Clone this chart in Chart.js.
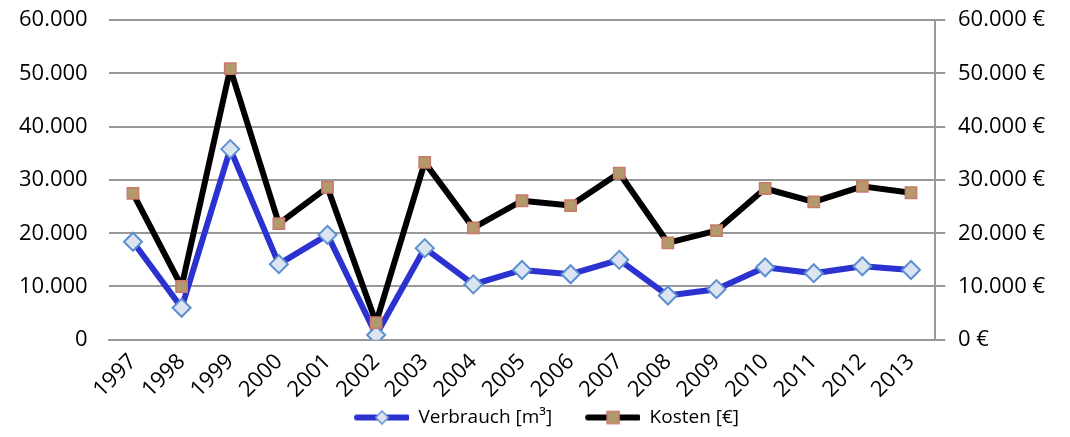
<!DOCTYPE html>
<html>
<head>
<meta charset="utf-8">
<script src="https://cdn.jsdelivr.net/npm/chart.js@4"></script>
<style>
  html, body { margin: 0; padding: 0; background: #fff; }
  #wrap { width: 1070px; height: 437px; }
</style>
</head>
<body>
<div id="wrap"><canvas id="chart" width="1070" height="437"></canvas></div>
<script>
const years = ['1997','1998','1999','2000','2001','2002','2003','2004','2005','2006','2007','2008','2009','2010','2011','2012','2013'];
const verbrauch = [18400, 6000, 35800, 14200, 19700, 900, 17200, 10400, 13100, 12300, 15000, 8300, 9500, 13600, 12500, 13800, 13100];
const kosten = [27500, 10000, 50900, 21800, 28600, 3200, 33300, 21000, 26100, 25200, 31300, 18200, 20500, 28400, 25900, 28800, 27600];
const yTicks = [0, 10000, 20000, 30000, 40000, 50000, 60000];

function fmt(v) {
    return String(v).replace(/\B(?=(\d{3})+(?!\d))/g, '.');
}

// legend symbol: line with marker, with some empty room on the left as item spacing
function legendIcon(lineColor, marker) {
    const c = document.createElement('canvas');
    c.width = 84; c.height = 16;
    const g = c.getContext('2d');
    g.strokeStyle = lineColor;
    g.lineWidth = 6;
    g.lineCap = 'round';
    g.beginPath(); g.moveTo(32, 8); g.lineTo(82, 8); g.stroke();
    if (marker === 'diamond') {
        g.fillStyle = '#dce4f2'; g.strokeStyle = '#5b8fd0'; g.lineWidth = 1.5;
        g.beginPath(); g.moveTo(57, 1.5); g.lineTo(63.5, 8); g.lineTo(57, 14.5); g.lineTo(50.5, 8); g.closePath();
        g.fill(); g.stroke();
    } else {
        g.fillStyle = '#b39a6c'; g.strokeStyle = '#c9786a'; g.lineWidth = 1.5;
        g.fillRect(51, 2, 12, 12); g.strokeRect(51, 2, 12, 12);
    }
    return c;
}

const font = "'Open Sans', sans-serif";

new Chart(document.getElementById('chart').getContext('2d'), {
    type: 'line',
    data: {
        labels: years,
        datasets: [{
            label: 'Verbrauch [m³]',
            data: verbrauch,
            yAxisID: 'y',
            borderColor: '#2b32cf',
            borderWidth: 6,
            borderJoinStyle: 'round',
            pointStyle: 'rectRot',
            pointRadius: 9,
            pointBackgroundColor: '#dce4f2',
            pointBorderColor: '#5b8fd0',
            pointBorderWidth: 2,
            tension: 0,
            order: 2
        }, {
            label: 'Kosten [€]',
            data: kosten,
            yAxisID: 'y1',
            borderColor: '#000000',
            borderWidth: 6,
            borderJoinStyle: 'round',
            pointStyle: 'rect',
            pointRadius: 8,
            pointBackgroundColor: '#b39a6c',
            pointBorderColor: '#c9786a',
            pointBorderWidth: 1.5,
            tension: 0,
            order: 1
        }]
    },
    options: {
        responsive: false,
        animation: false,
        layout: { padding: { top: 0, right: 18, left: 12, bottom: 0 } },
        plugins: {
            tooltip: { enabled: false },
            legend: {
                position: 'bottom',
                labels: {
                    usePointStyle: true,
                    pointStyleWidth: 84,
                    font: { family: font, size: 19 },
                    color: '#000',
                    padding: 4,
                    generateLabels: function(chart) {
                        return chart.data.datasets.map(function(ds, i) {
                            return {
                                text: ds.label,
                                pointStyle: legendIcon(i === 0 ? '#2b32cf' : '#000', i === 0 ? 'diamond' : 'square'),
                                datasetIndex: i,
                                hidden: false,
                                lineWidth: 0,
                                fontColor: '#000'
                            };
                        });
                    }
                }
            }
        },
        scales: {
            x: {
                offset: true,
                grid: { display: false },
                border: { display: true, color: '#999', width: 2 },
                ticks: {
                    maxRotation: 45, minRotation: 45,
                    font: { family: font, size: 22 },
                    color: '#000',
                    padding: 1
                }
            },
            y: {
                position: 'left',
                min: 0, max: 60000,
                afterBuildTicks: function(axis) { axis.ticks = yTicks.map(v => ({ value: v })); },
                grid: { color: '#999', lineWidth: 2, drawTicks: true, tickLength: 14, tickColor: 'rgba(0,0,0,0)' },
                border: { display: false },
                ticks: {
                    font: { family: font, size: 22 },
                    color: '#000',
                    padding: 7,
                    callback: v => fmt(v)
                }
            },
            y1: {
                position: 'right',
                min: 0, max: 60000,
                afterBuildTicks: function(axis) { axis.ticks = yTicks.map(v => ({ value: v })); },
                grid: { drawOnChartArea: false, color: '#999', lineWidth: 2, tickLength: 10 },
                border: { display: true, color: '#999', width: 2 },
                ticks: {
                    font: { family: font, size: 22 },
                    color: '#000',
                    padding: 7,
                    callback: v => ' ' + fmt(v) + ' €'
                }
            }
        }
    }
});
</script>
</body>
</html>
